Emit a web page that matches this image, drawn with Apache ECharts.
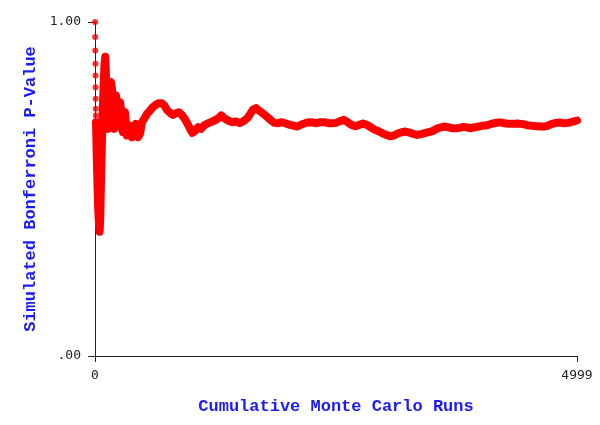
<!DOCTYPE html>
<html>
<head>
<meta charset="utf-8">
<script src="https://cdn.jsdelivr.net/npm/echarts@6/dist/echarts.min.js"></script>
<style>
  html, body { margin: 0; padding: 0; background: #fff; }
  #chart { width: 600px; height: 425px; }
</style>
</head>
<body>
<div id="chart"></div>
<script>
// first few runs, drawn as separate dots along the y axis
var startRuns = [1, 2, 3, 4, 5, 6, 7, 8, 9, 10];
var startValues = [1.0, 0.955, 0.915, 0.875, 0.84, 0.805, 0.77, 0.74, 0.72, 0.70];

// cumulative estimate
var runs = [
  10, 12, 18, 25, 32, 40, 48, 55, 62, 70, 78, 88, 98, 106, 114, 124, 135, 145, 156, 166,
  176, 187, 197, 207, 218, 228, 239, 249, 259, 270, 280, 290, 301, 311, 321, 332, 342, 363,
  384, 404, 425, 446, 467, 487,
  510, 540, 570, 600, 630, 660, 690, 720, 750, 780, 810, 840, 870, 900, 930, 960, 990, 1010,
  1040, 1070, 1100, 1130, 1160, 1200, 1240, 1280, 1310, 1340, 1380, 1420, 1460, 1500, 1540,
  1580, 1610, 1640, 1670, 1700, 1740, 1780, 1820, 1860, 1900, 1940, 1980, 2020, 2060, 2100,
  2140, 2180, 2220, 2260, 2300, 2340, 2380, 2420, 2460, 2500, 2540, 2580, 2620, 2660, 2700,
  2740, 2780, 2820, 2860, 2900, 2940, 2980, 3020, 3060, 3100, 3140, 3180, 3220, 3260, 3300,
  3340, 3380, 3420, 3460, 3500, 3540, 3580, 3620, 3660, 3700, 3740, 3780, 3820, 3860, 3900,
  3940, 3980, 4020, 4060, 4100, 4140, 4180, 4220, 4260, 4300, 4340, 4380, 4420, 4460, 4500,
  4540, 4580, 4620, 4660, 4700, 4740, 4780, 4820, 4860, 4900, 4940, 4999
];
var pValues = [
  0.70, 0.68, 0.60, 0.52, 0.45, 0.40, 0.372, 0.42, 0.52, 0.62, 0.72, 0.80, 0.87, 0.896, 0.84, 0.76, 0.68, 0.74, 0.81, 0.82,
  0.80, 0.73, 0.68, 0.74, 0.78, 0.78, 0.74, 0.70, 0.76, 0.74, 0.68, 0.67, 0.72, 0.73, 0.70, 0.66, 0.665, 0.69,
  0.655, 0.665, 0.695, 0.655, 0.665, 0.70,
  0.71, 0.725, 0.735, 0.745, 0.752, 0.757, 0.757, 0.75, 0.735, 0.728, 0.722, 0.727, 0.73, 0.722, 0.71, 0.695, 0.678, 0.668,
  0.675, 0.685, 0.68, 0.69, 0.695, 0.70, 0.705, 0.712, 0.72, 0.712, 0.705, 0.70, 0.702, 0.697, 0.703,
  0.712, 0.725, 0.738, 0.742, 0.735, 0.727, 0.717, 0.707, 0.698, 0.697, 0.70, 0.696, 0.692, 0.69, 0.687,
  0.693, 0.697, 0.70, 0.699, 0.697, 0.70, 0.70, 0.697, 0.697, 0.698, 0.703, 0.707, 0.70, 0.692, 0.688,
  0.692, 0.696, 0.692, 0.685, 0.678, 0.673, 0.667, 0.662, 0.658, 0.66, 0.666, 0.67, 0.672, 0.669, 0.665,
  0.662, 0.664, 0.667, 0.67, 0.673, 0.68, 0.684, 0.687, 0.685, 0.682, 0.682, 0.683, 0.686, 0.684, 0.682,
  0.685, 0.687, 0.69, 0.69, 0.694, 0.697, 0.699, 0.699, 0.696, 0.695, 0.695, 0.696, 0.695, 0.693, 0.69,
  0.689, 0.688, 0.687, 0.687, 0.69, 0.695, 0.698, 0.699, 0.697, 0.698, 0.70, 0.705
];

var xTicks = ['0', '4999'];
var yTicks = ['.00', '1.00'];

var chart = echarts.init(document.getElementById('chart'));

var titleFont = {
  color: '#1a1aff',
  fontFamily: 'Liberation Mono',
  fontWeight: 'bold',
  fontSize: 17
};
var tickFont = {
  color: '#222',
  fontFamily: 'DejaVu Sans Mono',
  fontSize: 13
};

var option = {
  backgroundColor: '#fff',
  animation: false,
  grid: { left: 95, right: 23, top: 22, bottom: 69 },
  xAxis: {
    type: 'value',
    min: 0,
    max: 4999,
    interval: 4999,
    name: 'Cumulative Monte Carlo Runs',
    nameLocation: 'middle',
    nameGap: 42,
    nameTextStyle: titleFont,
    splitLine: { show: false },
    axisLine: { lineStyle: { color: '#222', width: 1 } },
    axisTick: { length: 6, lineStyle: { color: '#222' } },
    axisLabel: Object.assign({
      margin: 13,
      formatter: function (v) { return v === 0 ? xTicks[0] : xTicks[1]; }
    }, tickFont)
  },
  yAxis: {
    type: 'value',
    min: 0,
    max: 1,
    interval: 1,
    name: 'Simulated Bonferroni P-Value',
    nameLocation: 'middle',
    nameGap: 56,
    nameTextStyle: titleFont,
    splitLine: { show: false },
    axisLine: { show: true, lineStyle: { color: '#222', width: 1 } },
    axisTick: { show: true, length: 7, lineStyle: { color: '#222' } },
    axisLabel: Object.assign({
      margin: 14,
      formatter: function (v) { return v === 0 ? yTicks[0] : yTicks[1]; }
    }, tickFont)
  },
  series: [
    {
      type: 'line',
      data: runs.map(function (r, i) { return [r, pValues[i]]; }),
      showSymbol: false,
      lineStyle: { color: '#ff0000', width: 8, cap: 'round', join: 'round' },
      silent: true
    },
    {
      type: 'scatter',
      data: startRuns.map(function (r, i) { return [r, startValues[i]]; }),
      symbolSize: 6,
      itemStyle: { color: '#ff0000' },
      silent: true
    }
  ]
};

chart.setOption(option);
</script>
</body>
</html>
